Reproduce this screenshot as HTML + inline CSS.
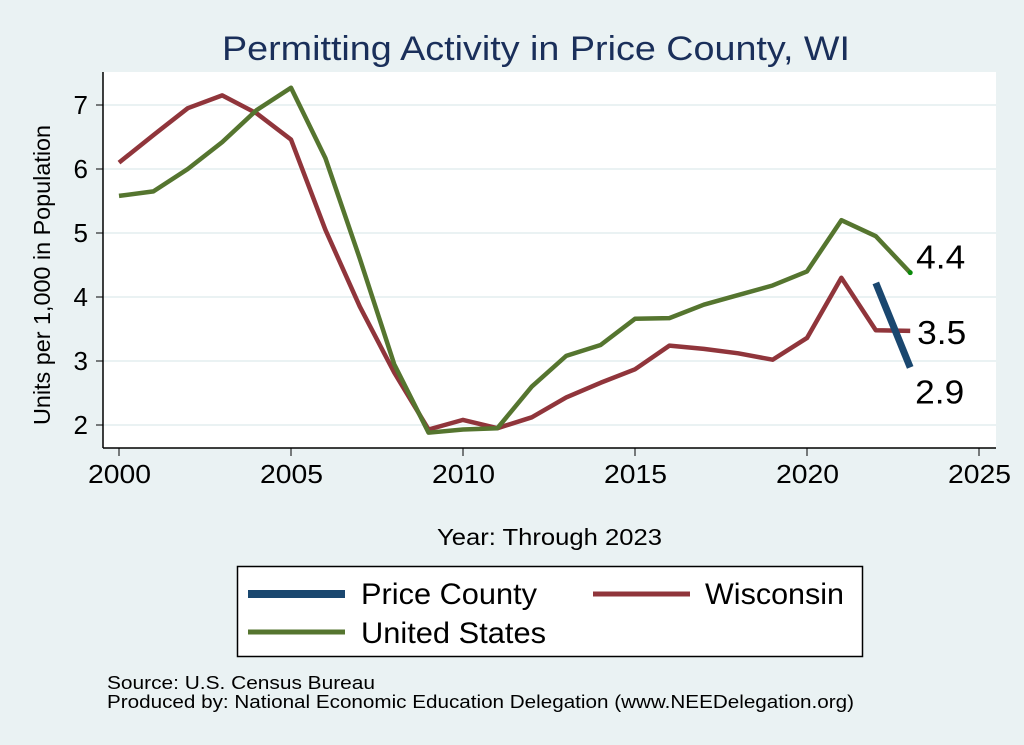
<!DOCTYPE html>
<html><head><meta charset="utf-8"><style>
body{margin:0;background:#eaf2f3;}
svg{display:block;font-family:"Liberation Sans",Arial,sans-serif;}
</style></head><body>
<svg id="chart" width="1024" height="745" viewBox="0 0 1024 745">
<rect x="0" y="0" width="1024" height="745" fill="#eaf2f3"/>
<text x="222" y="60" font-size="34" textLength="628" lengthAdjust="spacingAndGlyphs" fill="#1a2f5a">Permitting Activity in Price County, WI</text>
<rect x="103" y="72" width="893" height="376" fill="#fff"/>
<g id="grid"></g><g id="axes"></g><g id="series"></g>
<text transform="translate(50,425) rotate(-90)" font-size="23" textLength="300" lengthAdjust="spacingAndGlyphs" fill="#000">Units per 1,000 in Population</text>
<text x="437" y="545" font-size="23" textLength="225" lengthAdjust="spacingAndGlyphs" fill="#000">Year: Through 2023</text>
<g>
<rect x="237.5" y="566.5" width="625" height="90" fill="#fff" stroke="#000" stroke-width="1.5"/>
<line x1="248" y1="594" x2="345" y2="594" stroke="#1a476f" stroke-width="8"/>
<text x="361" y="604" font-size="30" textLength="176" lengthAdjust="spacingAndGlyphs">Price County</text>
<line x1="593" y1="594" x2="690" y2="594" stroke="#90353b" stroke-width="5"/>
<text x="705" y="604" font-size="30" textLength="139" lengthAdjust="spacingAndGlyphs">Wisconsin</text>
<line x1="248" y1="632" x2="345" y2="632" stroke="#55752f" stroke-width="5"/>
<text x="361" y="643" font-size="30" textLength="185" lengthAdjust="spacingAndGlyphs">United States</text>
</g>
<text x="107" y="689" font-size="18" textLength="268" lengthAdjust="spacingAndGlyphs">Source: U.S. Census Bureau</text>
<text x="107" y="708" font-size="18" textLength="747" lengthAdjust="spacingAndGlyphs">Produced by: National Economic Education Delegation (www.NEEDelegation.org)</text>
</svg>
<script>
const years=[2000,2001,2002,2003,2004,2005,2006,2007,2008,2009,2010,2011,2012,2013,2014,2015,2016,2017,2018,2019,2020,2021,2022,2023];
const usValues=[5.58,5.65,6.0,6.42,6.92,7.27,6.17,4.6,2.95,1.88,1.93,1.95,2.6,3.08,3.25,3.66,3.67,3.88,4.03,4.18,4.4,5.2,4.95,4.38];
const wiValues=[6.1,6.53,6.95,7.15,6.87,6.46,5.05,3.85,2.82,1.93,2.08,1.95,2.12,2.43,2.66,2.87,3.24,3.19,3.12,3.02,3.36,4.3,3.48,3.47];
const priceYears=[2022,2023];
const priceValues=[4.22,2.9];
const xTicks=[2000,2005,2010,2015,2020,2025];
const yTicks=[2,3,4,5,6,7];
const NS="http://www.w3.org/2000/svg";
function xs(y){return 119+(y-2000)*34.4;}
function ys(v){return 425-(v-2)*64;}
function mk(tag,attrs,parent){const e=document.createElementNS(NS,tag);for(const k in attrs)e.setAttribute(k,attrs[k]);parent.appendChild(e);return e;}
const grid=document.getElementById('grid'),axes=document.getElementById('axes'),ser=document.getElementById('series');
yTicks.forEach(t=>{
 const g=mk('line',{x1:103,x2:996,y1:ys(t),y2:ys(t),stroke:'#eaf2f3','stroke-width':2},grid);
 
 
 const tk=mk('line',{x1:96,x2:103,y1:ys(t),y2:ys(t),stroke:'#000','stroke-width':1},axes);
 
 
 const tx=mk('text',{x:88,y:ys(t)+9,'text-anchor':'end','font-size':26},axes);
 tx.textContent=t;
 
 
});
xTicks.forEach(t=>{
 const tk=mk('line',{x1:xs(t),x2:xs(t),y1:448,y2:456,stroke:'#000','stroke-width':1},axes);
 
 
 const tx=mk('text',{x:xs(t)-31,y:483,'font-size':26,textLength:63,lengthAdjust:'spacingAndGlyphs'},axes);
 tx.textContent=t;
 
 
});
const ya=mk('line',{x1:103,x2:103,y1:72,y2:448,stroke:'#000','stroke-width':1.5},axes);


const xa=mk('line',{x1:103,x2:996,y1:448,y2:448,stroke:'#000','stroke-width':1.5},axes);


function pts(xv,vv){return xv.map((y,i)=>xs(y)+','+ys(vv[i])).join(' ');}
const wl=mk('polyline',{points:pts(years,wiValues),fill:'none',stroke:'#90353b','stroke-width':4.5,'stroke-linejoin':'round'},ser);


const ul=mk('polyline',{points:pts(years,usValues),fill:'none',stroke:'#55752f','stroke-width':4.5,'stroke-linejoin':'round'},ser);


const pl=mk('polyline',{points:pts(priceYears,priceValues),fill:'none',stroke:'#1a476f','stroke-width':7},ser);


const last=years.length-1;
const dot=mk('circle',{cx:xs(years[last]),cy:ys(usValues[last]),r:2.5,fill:'#0a8a0a'},ser);


function lab(x,y,v,name){const t=mk('text',{x:x,y:y,'font-size':33,textLength:49,lengthAdjust:'spacingAndGlyphs'},ser);t.textContent=v.toFixed(1);
 
 }
lab(xs(years[last])+6,ys(usValues[last])-4,usValues[last],'us-end-label');
lab(xs(years[last])+7,ys(wiValues[last])+13,wiValues[last],'wisconsin-end-label');
lab(xs(priceYears[1])+5,ys(priceValues[1])+36,priceValues[1],'price-end-label');
</script>
</body></html>
